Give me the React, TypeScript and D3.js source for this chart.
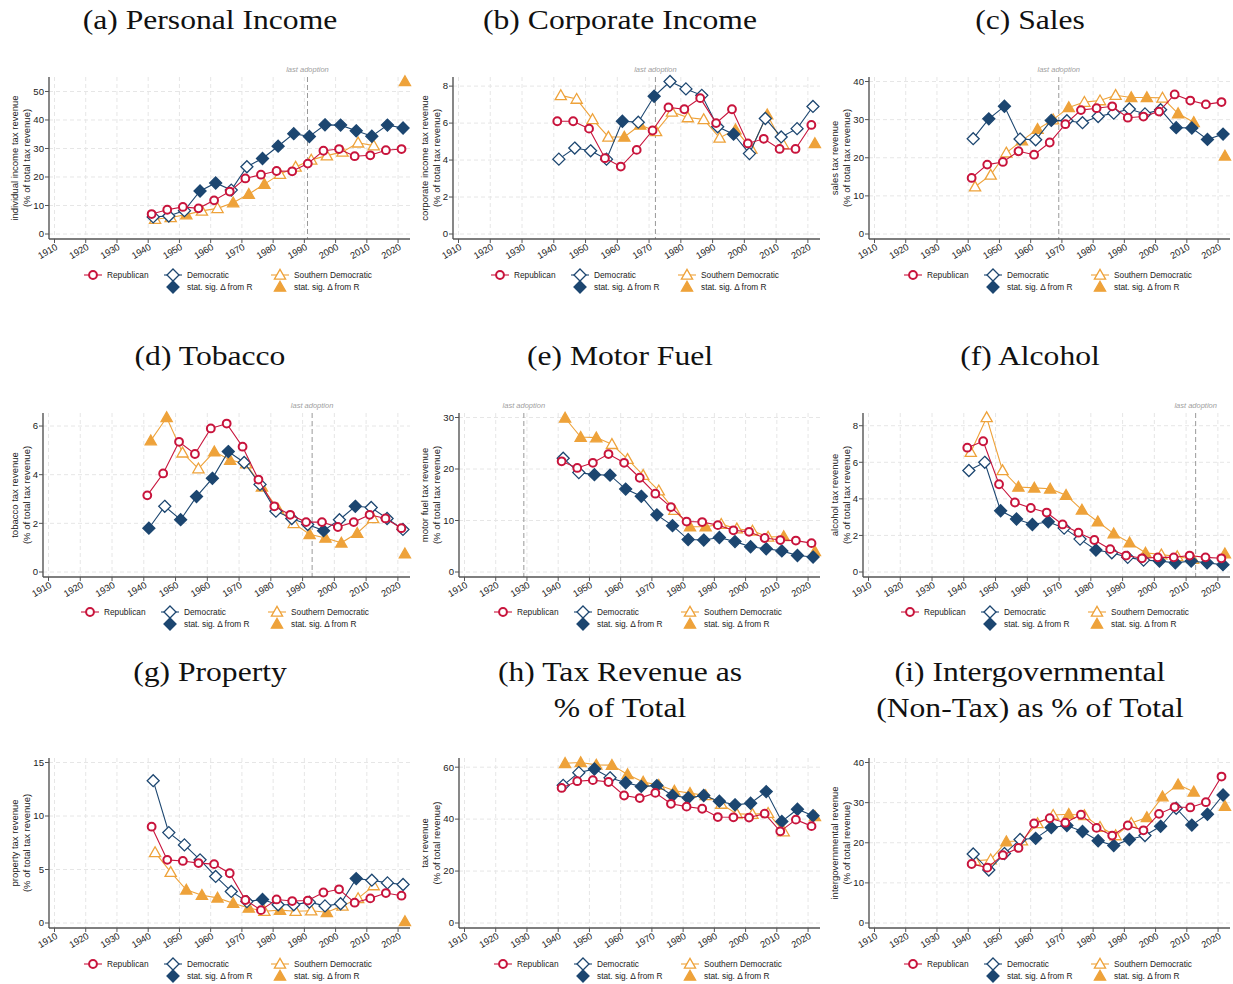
import React from 'react';
import * as d3 from 'd3';

const YEARS = [1942, 1947, 1952, 1957, 1962, 1967, 1972, 1977, 1982, 1987, 1992, 1997, 2002, 2007, 2012, 2017, 2022];
const DECADES = [1910, 1920, 1930, 1940, 1950, 1960, 1970, 1980, 1990, 2000, 2010, 2020];

// (a) personal income
const INCOME_R = [7.0, 8.5, 9.5, 9.0, 11.8, 14.9, 19.5, 20.8, 22.1, 22.0, 24.7, 29.2, 29.8, 27.3, 27.6, 29.4, 29.8];
const INCOME_D = [6.0, 6.3, 8.2, 15.1, 17.9, 15.4, 23.6, 26.5, 30.8, 35.2, 34.2, 38.3, 38.2, 36.2, 34.3, 38.2, 37.2];
const INCOME_D_SIG = [0, 0, 0, 1, 1, 0, 0, 1, 1, 1, 1, 1, 1, 1, 1, 1, 1];
const INCOME_S = [5.2, 5.8, 6.8, 8.1, 9.0, 11.0, 14.0, 17.5, 21.0, 23.5, 26.0, 27.5, 28.8, 32.0, 31.0, null, 53.5];
const INCOME_S_SIG = [0, 0, 1, 0, 0, 1, 1, 1, 0, 0, 0, 0, 0, 0, 0, 0, 1];

// (b) corporate income
const CORP_R = [6.1, 6.1, 5.7, 4.1, 3.65, 4.55, 5.6, 6.85, 6.75, 7.35, 6.0, 6.75, 4.9, 5.15, 4.6, 4.6, 5.9];
const CORP_D = [4.05, 4.65, 4.5, 4.05, 6.1, 6.05, 7.45, 8.25, 7.85, 7.5, 5.8, 5.4, 4.35, 6.25, 5.25, 5.7, 6.9];
const CORP_D_SIG = [0, 0, 0, 0, 1, 0, 1, 0, 0, 0, 0, 1, 0, 0, 0, 0, 0];
const CORP_S = [7.5, 7.3, 6.2, 5.25, 5.25, 5.9, 5.55, 6.6, 6.3, 6.2, 5.2, 5.65, 4.6, 6.45, 4.85, null, 4.9];
const CORP_S_SIG = [0, 0, 0, 0, 1, 1, 0, 0, 0, 0, 0, 1, 0, 1, 0, 0, 1];

// (c) sales
const SALES_R = [14.7, 18.2, 18.9, 21.7, 20.8, 24.0, 28.8, 32.5, 33.0, 33.5, 30.5, 30.8, 32.1, 36.6, 35.0, 34.0, 34.6];
const SALES_D = [25.0, 30.2, 33.5, 24.9, 24.7, 29.8, 29.7, 29.2, 30.8, 31.7, 32.8, 31.5, 32.6, 27.9, 27.8, 24.8, 26.2];
const SALES_D_SIG = [0, 1, 1, 0, 0, 1, 0, 0, 0, 0, 0, 0, 0, 1, 1, 1, 1];
const SALES_S = [12.4, 15.5, 21.3, 24.5, 27.5, 30.0, 33.2, 34.6, 35.0, 36.4, 35.8, 35.8, 35.7, 31.6, 29.3, null, 20.5];
const SALES_S_SIG = [0, 0, 0, 1, 1, 0, 1, 0, 0, 0, 1, 1, 0, 1, 1, 0, 1];

// (d) tobacco
const TOBACCO_R = [3.15, 4.05, 5.35, 4.85, 5.9, 6.1, 5.15, 3.8, 2.7, 2.35, 2.05, 2.05, 1.85, 2.05, 2.35, 2.2, 1.8];
const TOBACCO_D = [1.8, 2.7, 2.15, 3.1, 3.85, 4.95, 4.5, 3.6, 2.5, 2.2, 1.95, 1.7, 2.15, 2.7, 2.65, 2.2, 1.75];
const TOBACCO_D_SIG = [1, 0, 1, 1, 1, 1, 0, 0, 0, 0, 0, 1, 0, 1, 0, 0, 0];
const TOBACCO_S = [5.4, 6.35, 4.9, 4.25, 4.95, 4.6, 4.45, 3.5, 2.6, 2.0, 1.55, 1.4, 1.2, 1.6, 2.2, null, 0.75];
const TOBACCO_S_SIG = [1, 1, 0, 0, 1, 1, 0, 1, 1, 0, 1, 1, 1, 1, 0, 0, 1];

// (e) motor fuel
const FUEL_R = [21.5, 20.2, 21.2, 22.9, 21.2, 18.3, 15.2, 12.6, 9.8, 9.7, 9.1, 8.1, 7.8, 6.6, 6.2, 6.1, 5.6];
const FUEL_D = [22.1, 19.3, 18.9, 18.8, 16.1, 14.7, 11.1, 9.0, 6.3, 6.2, 6.7, 5.9, 4.9, 4.5, 4.1, 3.2, 2.9];
const FUEL_D_SIG = [0, 0, 1, 1, 1, 1, 1, 1, 1, 1, 1, 1, 1, 1, 1, 1, 1];
const FUEL_S = [29.9, 26.2, 26.1, 24.8, 21.9, 18.8, 15.8, 12.0, 8.8, 8.8, 9.3, 8.4, 8.0, 6.8, 6.9, null, 4.0];
const FUEL_S_SIG = [1, 1, 1, 0, 0, 0, 0, 0, 1, 1, 0, 0, 0, 0, 1, 0, 1];

// (f) alcohol
const ALCOHOL_R = [6.8, 7.15, 4.8, 3.8, 3.5, 3.25, 2.6, 2.15, 1.75, 1.25, 0.9, 0.75, 0.8, 0.8, 0.9, 0.8, 0.75];
const ALCOHOL_D = [5.55, 6.0, 3.35, 2.9, 2.6, 2.75, 2.4, 1.8, 1.2, 1.05, 0.8, 0.65, 0.6, 0.5, 0.6, 0.5, 0.4];
const ALCOHOL_D_SIG = [0, 0, 1, 1, 1, 1, 0, 0, 1, 0, 0, 0, 1, 1, 1, 1, 1];
const ALCOHOL_S = [6.55, 8.45, 5.55, 4.65, 4.6, 4.55, 4.2, 3.4, 2.75, 2.1, 1.6, 1.05, 0.95, 0.85, 0.7, null, 1.0];
const ALCOHOL_S_SIG = [0, 0, 0, 1, 1, 1, 1, 1, 1, 1, 1, 1, 0, 0, 0, 0, 1];

// (g) property
const PROPERTY_R = [9.0, 5.9, 5.8, 5.6, 5.5, 4.65, 2.15, 1.2, 2.2, 2.05, 2.1, 2.85, 3.15, 1.9, 2.3, 2.8, 2.55];
const PROPERTY_D = [13.3, 8.45, 7.3, 5.9, 4.35, 2.95, 2.0, 2.2, 1.7, 1.7, 1.95, 1.6, 1.8, 4.15, 4.0, 3.75, 3.6];
const PROPERTY_D_SIG = [0, 0, 0, 0, 0, 0, 0, 1, 0, 0, 0, 0, 0, 1, 0, 0, 0];
const PROPERTY_S = [6.6, 4.75, 3.1, 2.6, 2.35, 1.85, 1.4, 1.1, 1.2, 1.1, 1.15, 1.0, 1.6, 2.3, 3.5, null, 0.15];
const PROPERTY_S_SIG = [0, 0, 1, 1, 1, 1, 1, 0, 1, 0, 0, 1, 0, 0, 0, 0, 1];

// (h) tax revenue share
const TAXREV_R = [52.0, 54.6, 55.0, 54.3, 49.1, 48.1, 50.1, 45.9, 44.8, 44.0, 40.8, 40.7, 40.6, 42.1, 35.3, 39.8, 37.3];
const TAXREV_D = [53.0, 57.9, 59.3, 55.9, 54.0, 52.6, 52.9, 49.1, 48.2, 49.1, 46.9, 45.5, 46.1, 50.6, 39.1, 43.8, 41.3];
const TAXREV_D_SIG = [0, 0, 1, 0, 1, 1, 1, 1, 1, 1, 1, 1, 1, 1, 1, 1, 1];
const TAXREV_S = [61.5, 61.8, 60.9, 60.8, 57.2, 54.3, 53.1, 50.9, 50.0, 49.1, 45.8, 42.0, 41.9, 42.3, 35.2, null, 41.0];
const TAXREV_S_SIG = [1, 1, 1, 1, 1, 1, 0, 1, 1, 0, 0, 0, 0, 0, 0, 0, 1];

// (i) intergovernmental
const INTERGOV_R = [14.7, 13.8, 16.9, 18.7, 24.8, 26.1, 25.0, 27.0, 23.7, 21.8, 24.3, 23.1, 27.2, 28.9, 28.8, 30.1, 36.5];
const INTERGOV_D = [17.2, 13.2, 17.3, 20.8, 21.1, 23.8, 24.3, 22.8, 20.5, 19.3, 20.8, 21.8, 24.1, 28.6, 24.4, 27.1, 31.9];
const INTERGOV_D_SIG = [0, 0, 0, 0, 1, 1, 1, 1, 1, 1, 1, 0, 1, 0, 1, 1, 1];
const INTERGOV_S = [15.5, 15.8, 20.3, 20.5, 24.8, 26.9, 27.1, 26.8, 23.9, 21.8, 24.9, 26.3, 31.5, 34.5, 32.7, null, 29.1];
const INTERGOV_S_SIG = [0, 0, 1, 0, 0, 0, 1, 0, 0, 0, 0, 1, 1, 1, 1, 0, 1];

const PANELS = [
  { title: ['(a) Personal Income'], ylab: 'individual income tax revenue', ysub: '(% of total tax revenue)', ticks: [0, 10, 20, 30, 40, 50], adopt: 1991, r: INCOME_R, d: INCOME_D, dSig: INCOME_D_SIG, s: INCOME_S, sSig: INCOME_S_SIG },
  { title: ['(b) Corporate Income'], ylab: 'corporate income tax revenue', ysub: '(% of total tax revenue)', ticks: [0, 2, 4, 6, 8], adopt: 1972, r: CORP_R, d: CORP_D, dSig: CORP_D_SIG, s: CORP_S, sSig: CORP_S_SIG },
  { title: ['(c) Sales'], ylab: 'sales tax revenue', ysub: '(% of total tax revenue)', ticks: [0, 10, 20, 30, 40], adopt: 1969, r: SALES_R, d: SALES_D, dSig: SALES_D_SIG, s: SALES_S, sSig: SALES_S_SIG },
  { title: ['(d) Tobacco'], ylab: 'tobacco tax revenue', ysub: '(% of total tax revenue)', ticks: [0, 2, 4, 6], adopt: 1993, r: TOBACCO_R, d: TOBACCO_D, dSig: TOBACCO_D_SIG, s: TOBACCO_S, sSig: TOBACCO_S_SIG },
  { title: ['(e) Motor Fuel'], ylab: 'motor fuel tax revenue', ysub: '(% of total tax revenue)', ticks: [0, 10, 20, 30], adopt: 1929, r: FUEL_R, d: FUEL_D, dSig: FUEL_D_SIG, s: FUEL_S, sSig: FUEL_S_SIG },
  { title: ['(f) Alcohol'], ylab: 'alcohol tax revenue', ysub: '(% of total tax revenue)', ticks: [0, 2, 4, 6, 8], adopt: 2013, r: ALCOHOL_R, d: ALCOHOL_D, dSig: ALCOHOL_D_SIG, s: ALCOHOL_S, sSig: ALCOHOL_S_SIG },
  { title: ['(g) Property'], ylab: 'property tax revenue', ysub: '(% of total tax revenue)', ticks: [0, 5, 10, 15], adopt: null, r: PROPERTY_R, d: PROPERTY_D, dSig: PROPERTY_D_SIG, s: PROPERTY_S, sSig: PROPERTY_S_SIG },
  { title: ['(h) Tax Revenue as', '% of Total'], ylab: 'tax revenue', ysub: '(% of total revenue)', ticks: [0, 20, 40, 60], adopt: null, r: TAXREV_R, d: TAXREV_D, dSig: TAXREV_D_SIG, s: TAXREV_S, sSig: TAXREV_S_SIG },
  { title: ['(i) Intergovernmental', '(Non-Tax) as % of Total'], ylab: 'intergovernmental revenue', ysub: '(% of total revenue)', ticks: [0, 10, 20, 30, 40], adopt: null, r: INTERGOV_R, d: INTERGOV_D, dSig: INTERGOV_D_SIG, s: INTERGOV_S, sSig: INTERGOV_S_SIG },
];

const RED = '#c8143c';
const NAVY = '#1c4670';
const ORANGE = '#eea23a';
const SANS = '"Liberation Sans", Arial, sans-serif';
const SERIF = '"Liberation Serif", "DejaVu Serif", serif';

const ROWS = [
  { titleY: 29, top: 77, bottom: 239, legY: 275 },
  { titleY: 365, top: 413, bottom: 577, legY: 612 },
  { titleY: 681, top: 758, bottom: 928, legY: 964 },
];

const diamond = 'M0,-6L6,0L0,6L-6,0Z';
const triangle = 'M0,-5.6L5.6,4.2L-5.6,4.2Z';

function Marker({ kind, filled, x, y }) {
  if (kind === 'r') {
    return <circle cx={x} cy={y} r={3.9} fill="#fff" stroke={RED} strokeWidth={2} />;
  }
  const color = kind === 'd' ? NAVY : ORANGE;
  return (
    <path
      d={kind === 'd' ? diamond : triangle}
      transform={`translate(${x},${y})`}
      fill={filled ? color : '#fff'}
      stroke={color}
      strokeWidth={1.3}
    />
  );
}

function Panel({ p, idx }) {
  const col = idx % 3;
  const row = ROWS[Math.floor(idx / 3)];
  const x0 = col * 410;
  const tickMax = p.ticks[p.ticks.length - 1];
  const axisLeft = x0 + (tickMax < 10 ? 43 : 49);
  const right = x0 + 410;

  const x = d3.scaleLinear().domain([1910, 2023.5]).range([axisLeft + 5.5, x0 + 409]);
  const dataMax = d3.max([...p.r, ...p.d, ...p.s].filter(v => v != null));
  const y = d3.scaleLinear().domain([0, Math.max(dataMax, tickMax)]).range([row.bottom - 5, row.top + 4.5]);

  const series = [
    { key: 's', vals: p.s, sig: p.sSig, off: 0.2, color: ORANGE },
    { key: 'd', vals: p.d, sig: p.dSig, off: -0.4, color: NAVY },
    { key: 'r', vals: p.r, sig: null, off: -0.9, color: RED },
  ];

  const line = (vals, off) =>
    d3.line()
      .defined(i => vals[i] != null)
      .x(i => x(YEARS[i] + off))
      .y(i => y(vals[i]))(YEARS.map((_, i) => i));

  const plotMid = (axisLeft + right) / 2;
  const yMid = (row.top + row.bottom) / 2;
  const legItems = [
    { kind: 'r', dx: -136.5, label: 'Republican' },
    { kind: 'd', dx: -56.5, label: 'Democratic' },
    { kind: 's', dx: 50.5, label: 'Southern Democratic' },
  ];

  return (
    <g>
      {p.title.map((t, i) => (
        <text key={i} transform={`translate(${x0 + 210},${row.titleY + i * 36}) scale(1.13,1)`} textAnchor="middle" fontFamily={SERIF} fontSize={28} fill="#111">{t}</text>
      ))}

      {/* grid */}
      {DECADES.map(yr => (
        <line key={yr} x1={x(yr)} x2={x(yr)} y1={row.top} y2={row.bottom} stroke="#e6e6e6" strokeDasharray="4,3" />
      ))}
      {p.ticks.map(t => (
        <line key={t} x1={axisLeft} x2={right} y1={y(t)} y2={y(t)} stroke="#e6e6e6" strokeDasharray="4,3" />
      ))}

      {p.adopt != null && (
        <g>
          <line x1={x(p.adopt)} x2={x(p.adopt)} y1={row.top} y2={row.bottom} stroke="#999" strokeDasharray="5,3" strokeWidth={1} />
          <text x={x(p.adopt)} y={row.top - 5} textAnchor="middle" fontFamily={SANS} fontStyle="italic" fontSize={7.5} fill="#a0a0a0">last adoption</text>
        </g>
      )}

      {/* axes */}
      <line x1={axisLeft} x2={axisLeft} y1={row.top} y2={row.bottom} stroke="#555" strokeWidth={1.4} />
      <line x1={axisLeft} x2={right} y1={row.bottom} y2={row.bottom} stroke="#555" strokeWidth={1.4} />
      {p.ticks.map(t => (
        <g key={t}>
          <line x1={axisLeft - 4} x2={axisLeft} y1={y(t)} y2={y(t)} stroke="#555" />
          <text x={axisLeft - 5} y={y(t)} dy="0.35em" textAnchor="end" fontFamily={SANS} fontSize={9.6} fill="#222">{t}</text>
        </g>
      ))}
      {DECADES.map(yr => (
        <g key={yr}>
          <line x1={x(yr)} x2={x(yr)} y1={row.bottom} y2={row.bottom + 4} stroke="#555" />
          <text transform={`translate(${x(yr) + 2},${row.bottom + 7}) rotate(-30)`} textAnchor="end" dy="0.35em" fontFamily={SANS} fontSize={9.3} fill="#222">{yr}</text>
        </g>
      ))}

      {/* y title */}
      <text transform={`translate(${x0 + 14.5},${yMid}) rotate(-90)`} textAnchor="middle" dy="0.35em" fontFamily={SANS} fontSize={9.5} fill="#222">{p.ylab}</text>
      <text transform={`translate(${x0 + 26.5},${yMid}) rotate(-90)`} textAnchor="middle" dy="0.35em" fontFamily={SANS} fontSize={9.5} fill="#222">{p.ysub}</text>

      {/* series */}
      {series.map(s => (
        <g key={s.key}>
          <path d={line(s.vals, s.off)} fill="none" stroke={s.color} strokeWidth={1.1} />
          {s.vals.map((v, i) => v == null ? null : (
            <Marker key={i} kind={s.key} filled={s.sig ? s.sig[i] === 1 : false} x={x(YEARS[i] + s.off)} y={y(v)} />
          ))}
        </g>
      ))}

      {/* legend */}
      {legItems.map(l => {
        const mx = plotMid + l.dx;
        const c = l.kind === 'r' ? RED : l.kind === 'd' ? NAVY : ORANGE;
        return (
          <g key={l.kind}>
            <line x1={mx - 9} x2={mx + 9} y1={row.legY} y2={row.legY} stroke={c} strokeWidth={1.1} />
            <Marker kind={l.kind} filled={false} x={mx} y={row.legY} />
            <text x={mx + 14} y={row.legY} dy="0.35em" fontFamily={SANS} fontSize={8.3} fill="#222">{l.label}</text>
            {l.kind !== 'r' && (
              <g>
                <Marker kind={l.kind} filled={true} x={mx} y={row.legY + 12} />
                <text x={mx + 14} y={row.legY + 12} dy="0.35em" fontFamily={SANS} fontSize={8.3} fill="#222">stat. sig. Δ from R</text>
              </g>
            )}
          </g>
        );
      })}
    </g>
  );
}

export default function App() {
  return (
    <div style={{ position: 'absolute', left: 0, top: 0 }}>
      <svg width={1233} height={984} style={{ display: 'block', background: '#fff' }}>
        {PANELS.map((p, i) => <Panel key={i} p={p} idx={i} />)}
      </svg>
    </div>
  );
}
